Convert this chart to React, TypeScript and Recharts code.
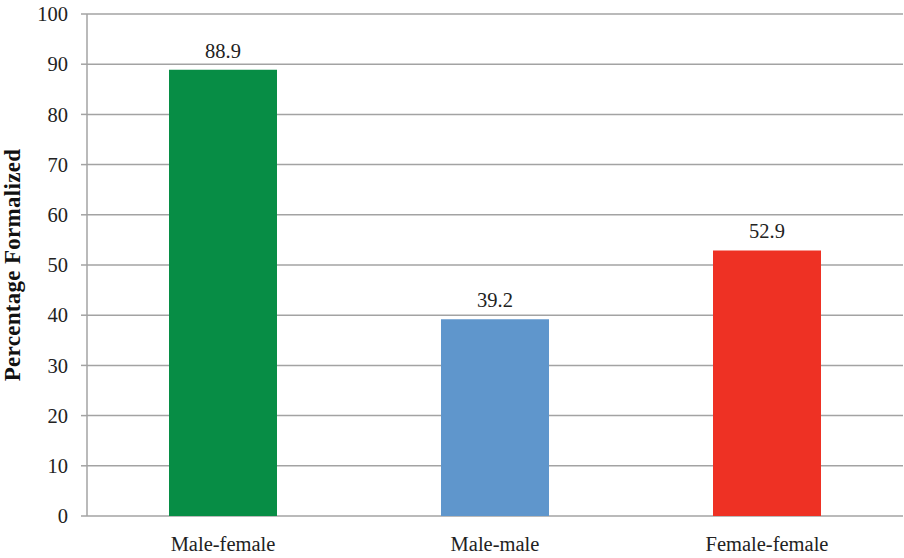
import React from "react";
import { BarChart, Bar, XAxis, YAxis, CartesianGrid, Cell, LabelList } from "recharts";

const categories = ["Male-female", "Male-male", "Female-female"];
const values = [88.9, 39.2, 52.9];
const colors = ["#078d45", "#5f96cc", "#ee3124"];
const yTicks = [0, 10, 20, 30, 40, 50, 60, 70, 80, 90, 100];
const boundaryTicks = [0, 1, 2, 3];

const data = categories.map((name, i) => ({ name, value: values[i] }));

const font = "'Liberation Serif', 'DejaVu Serif', serif";
const gray = "#a3a3a3";

export default function App() {
    return (
        <div style={{ position: "absolute", left: 0, top: 0, width: 904, height: 558, background: "#fff" }}>
            <style>{`.chart svg text { font-family: ${font}; }`}</style>
            <div className="chart">
                <BarChart
                    width={904}
                    height={558}
                    data={data}
                    margin={{ top: 14, right: 1, bottom: 0, left: 0 }}
                >
                    <CartesianGrid vertical={false} stroke={gray} strokeWidth={1.5} />
                    <XAxis
                        xAxisId="bounds"
                        type="number"
                        domain={[0, 3]}
                        ticks={boundaryTicks}
                        tickFormatter={() => ""}
                        axisLine={{ stroke: gray, strokeWidth: 1.5 }}
                        tickLine={{ stroke: gray, strokeWidth: 1.5 }}
                        tickSize={7}
                        height={0}
                    />
                    <XAxis
                        dataKey="name"
                        axisLine={false}
                        tickLine={false}
                        tickSize={0}
                        tickMargin={20}
                        height={42}
                        tick={{ fill: "#222", fontSize: 20.5 }}
                    />
                    <YAxis
                        width={87}
                        domain={[0, 100]}
                        ticks={yTicks}
                        interval={0}
                        axisLine={{ stroke: gray, strokeWidth: 1.5 }}
                        tickLine={{ stroke: gray, strokeWidth: 1.5 }}
                        tickSize={6}
                        tickMargin={13}
                        tick={{ fill: "#222", fontSize: 20.5 }}
                        label={{
                            value: "Percentage Formalized",
                            angle: -90,
                            position: "insideLeft",
                            offset: 12,
                            style: { textAnchor: "middle", fill: "#111", fontSize: 23, fontWeight: "bold", letterSpacing: 0.3 },
                        }}
                    />
                    <Bar dataKey="value" barSize={108} isAnimationActive={false}>
                        {data.map((d, i) => (
                            <Cell key={d.name} fill={colors[i]} />
                        ))}
                        <LabelList
                            dataKey="value"
                            position="top"
                            offset={12}
                            style={{ fill: "#222", fontSize: 20.5 }}
                        />
                    </Bar>
                </BarChart>
            </div>
        </div>
    );
}
